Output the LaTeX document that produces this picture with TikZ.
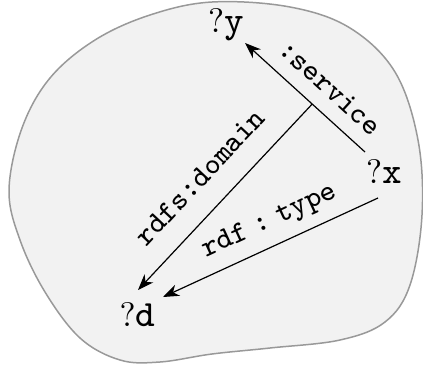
\documentclass[tikz,border=0pt]{standalone}
\usepackage{fontspec}
\setmainfont{lmroman10-regular.otf}
\setmonofont{lmmono8-regular.otf}
\usetikzlibrary{arrows.meta}
\definecolor{blobfill}{HTML}{F2F2F2}
\definecolor{blobline}{HTML}{999999}
\newcommand{\vtt}[1]{{\fontsize{37}{40}\selectfont\ttfamily #1}}
\tikzset{
  blob/.style={draw=blobline, fill=blobfill, line width=1.5pt},
  var/.style={anchor=base, inner sep=0pt, font=\fontsize{34}{40}\selectfont},
  arr/.style={line width=1.2pt, -{Stealth[length=16pt,width=12pt,inset=5pt]}},
  lbl/.style={sloped, inner sep=0pt, font=\fontsize{30}{36}\selectfont\ttfamily}
}
\begin{document}
\begin{tikzpicture}[x=1pt,y=-1pt]
\useasboundingbox (0,0) rectangle (423,367);
\draw[blob] plot[smooth cycle, tension=0.6] coordinates {
  (9,190) (22,128) (50,78) (95,40) (150,15) (212,2) (290,7) (350,28)
  (395,72) (418,140) (422,215) (410,285) (385,322) (340,340) (270,348)
  (212,354) (160,362) (120,360) (80,338) (45,292) (20,240)};
\node[var] (y) at (226,32) {?\vtt{y}};
\node[var] (x) at (384,183) {?\vtt{x}};
\node[var] (d) at (137.5,326) {?\vtt{d}};
\draw[arr] ([shift={(-19,-31)}]x.base) -- coordinate[pos=0.44] (m)
  node[lbl, pos=0.425, above=14.5pt] {:service} ([shift={(19,11)}]y.base);
\draw[arr] (m) -- node[lbl, pos=0.51, above=22pt] {rdfs:domain}
  ([shift={(0.5,-36)}]d.base);
\draw[arr] ([shift={(-6,15)}]x.base) -- node[lbl, pos=0.457, above=10.5pt] {rdf\hspace{0.3em}:\hspace{0.3em}type}
  ([shift={(25.5,-29)}]d.base);
\end{tikzpicture}
\end{document}
